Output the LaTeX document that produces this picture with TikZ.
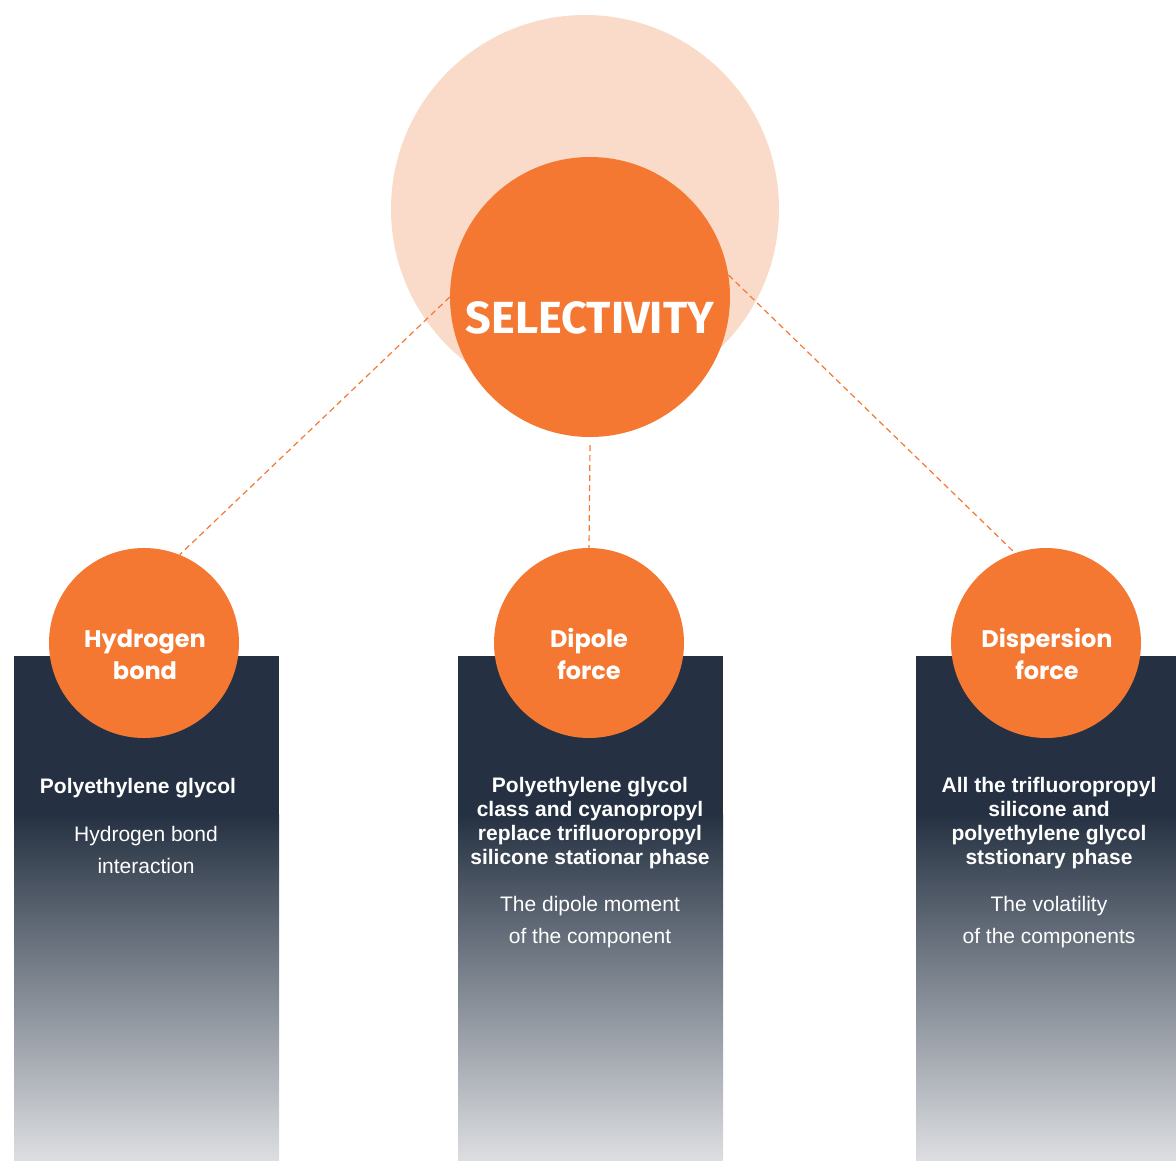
\documentclass[tikz,border=0pt]{standalone}
\usepackage{fontspec}
\setmainfont{Liberation Sans}
\newfontfamily\popfont{Poppins}
\newfontfamily\firafont{Fira Sans}
\definecolor{orng}{HTML}{F47832}
\definecolor{pale}{HTML}{FADBC9}
\definecolor{navy}{HTML}{253142}
\definecolor{lightg}{HTML}{DCDEE1}
\tikzset{
  dashline/.style={draw=orng, line width=1.2pt, dash pattern=on 6pt off 4pt},
  smallcirc/.style={circle, fill=orng, minimum size=190pt, inner sep=0pt},
  circlbl/.style={text=white, align=center, anchor=base, font=\popfont\bfseries\fontsize{24}{32}\selectfont},
  boldtxt/.style={text=white, align=center, anchor=base, font=\bfseries\fontsize{21}{24}\selectfont},
  regtxt/.style={text=white, align=center, anchor=base, font=\fontsize{21}{31.5}\selectfont},
}
\begin{document}
\begin{tikzpicture}[x=1pt,y=-1pt]
\useasboundingbox (0,0) rectangle (1176,1160);
% big circles
\node[circle, fill=pale, minimum size=388pt, inner sep=0pt] (big) at (585,209) {};
\node[circle, fill=orng, minimum size=280pt, inner sep=0pt] (sel) at (590,297) {};
% panels
\fill[navy] (14,656) rectangle (279,815);
\shade[top color=navy, bottom color=lightg] (14,814) rectangle (279,1160);
\fill[navy] (458,656) rectangle (723,815);
\shade[top color=navy, bottom color=lightg] (458,814) rectangle (723,1160);
\fill[navy] (916,656) rectangle (1176,815);
\shade[top color=navy, bottom color=lightg] (916,814) rectangle (1176,1160);
% small circles
\node[smallcirc] (hb) at (144,643) {};
\node[smallcirc] (dp) at (589,643) {};
\node[smallcirc] (ds) at (1046,643) {};
% connectors
\coordinate (ctop) at (590,445);
\draw[dashline] (sel.west) -- (hb.68);
\draw[dashline] (ctop) -- (dp.north);
\draw[dashline] (sel.9) -- (ds.109);
% labels
\node[text=white, anchor=base, font=\firafont\bfseries\fontsize{45}{50}\selectfont] (seltxt) at (590,333) {SELECTIVITY};
\node[circlbl] (hbl) at (145,679) {Hydrogen\\bond};
\node[circlbl] (dpl) at (589,679) {Dipole\\force};
\node[circlbl] (dsl) at (1047,679) {Dispersion\\force};
\node[boldtxt] (t1) at (138,793) {Polyethylene glycol};
\node[regtxt] (r1) at (146,873) {Hydrogen bond\\interaction};
\node[boldtxt] (t2) at (590,864) {Polyethylene glycol\\class and cyanopropyl\\replace trifluoropropyl\\silicone stationar phase};
\node[regtxt] (r2) at (590,943) {The dipole moment\\of the component};
\node[boldtxt] (t3) at (1049,864) {All the trifluoropropyl\\silicone and\\polyethylene glycol\\ststionary phase};
\node[regtxt] (r3) at (1049,943) {The volatility\\of the components};
\end{tikzpicture}
\end{document}
